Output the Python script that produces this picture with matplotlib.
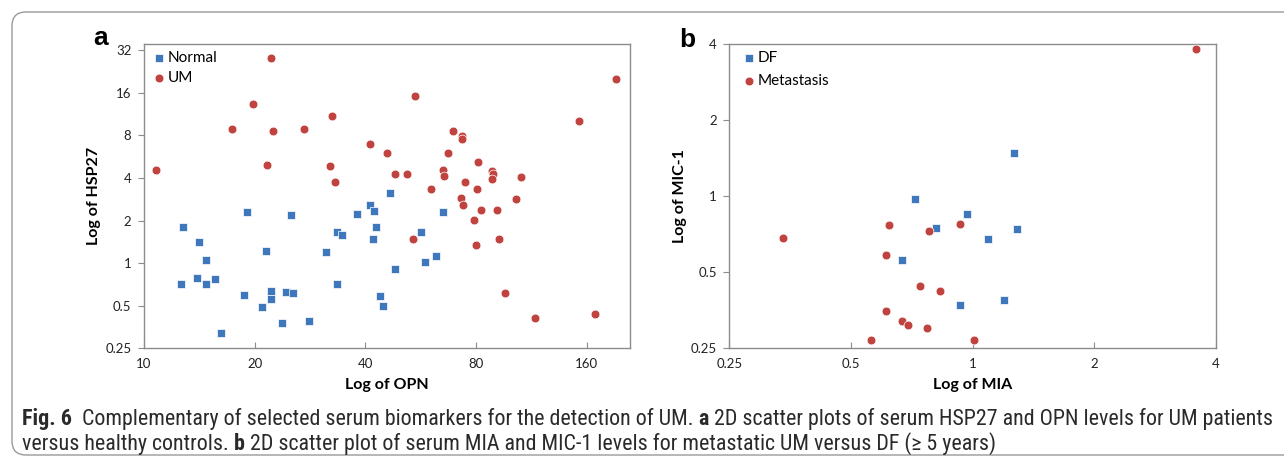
import matplotlib

matplotlib.use("Agg")

import matplotlib.pyplot as plt
from matplotlib.patches import FancyBboxPatch
from matplotlib.ticker import FixedLocator, FuncFormatter, NullLocator

# panel a: serum OPN (x) vs HSP27 (y)
normal_opn = [12.8, 19.1, 25.1, 14.1, 21.5, 14.7, 13.9, 12.6, 14.7, 15.6,
              18.7, 22.1, 22.1, 24.4, 25.4, 21.0, 23.8, 28.1, 16.2, 46.6,
              41.2, 42.2, 38.0, 65.2, 42.8, 41.9, 33.5, 34.6, 56.7, 31.2,
              58.0, 62.1, 48.1, 33.5, 43.7, 44.7]
normal_hsp27 = [1.81, 2.29, 2.20, 1.42, 1.22, 1.06, 0.79, 0.715, 0.715, 0.776,
                0.60, 0.635, 0.56, 0.62, 0.61, 0.49, 0.38, 0.39, 0.32, 3.14,
                2.56, 2.35, 2.23, 2.29, 1.81, 1.48, 1.66, 1.58, 1.66, 1.20,
                1.02, 1.12, 0.91, 0.71, 0.59, 0.50]
um_opn = [22.1, 19.8, 17.4, 22.4, 27.3, 10.8, 21.6, 54.5, 32.5, 41.2,
          45.8, 69.4, 73.2, 73.2, 67.0, 32.1, 33.0, 48.1, 51.9, 65.2,
          65.4, 74.6, 60.2, 72.6, 73.5, 53.9, 191.8, 152.1, 80.8, 88.6,
          89.1, 88.2, 106.0, 80.5, 102.7, 82.5, 91.4, 78.8, 92.5, 80.1,
          96.1, 115.9, 168.1]
um_hsp27 = [28.0, 13.3, 8.9, 8.6, 8.9, 4.57, 4.93, 15.2, 11.0, 6.9,
            5.97, 8.54, 7.87, 7.53, 6.03, 4.88, 3.76, 4.28, 4.28, 4.53,
            4.11, 3.72, 3.32, 2.88, 2.59, 1.49, 20.1, 10.1, 5.21, 4.51,
            4.24, 3.95, 4.06, 3.32, 2.82, 2.37, 2.37, 2.02, 1.47, 1.34,
            0.61, 0.41, 0.44]

# panel b: serum MIA (x) vs MIC-1 (y)
df_mia = [1.265, 0.72, 0.968, 0.81, 1.285, 1.09, 0.67, 0.93, 1.195]
df_mic1 = [1.48, 0.98, 0.85, 0.75, 0.74, 0.68, 0.56, 0.37, 0.39]
met_mia = [0.34, 0.62, 0.78, 0.93, 0.61, 0.74, 0.83, 0.61, 0.67, 0.69,
           0.77, 0.56, 1.01, 3.56]
met_mic1 = [0.686, 0.77, 0.73, 0.78, 0.587, 0.44, 0.42, 0.35, 0.32, 0.31,
            0.30, 0.27, 0.27, 3.82]

a_xticks = [10, 20, 40, 80, 160]
a_yticks = [0.25, 0.5, 1, 2, 4, 8, 16, 32]
b_ticks = [0.25, 0.5, 1, 2, 4]

caption_1 = [
    ("Fig. 6", "bold", 2),
    ("Complementary of selected serum biomarkers for the detection of UM.", "normal", 1),
    ("a", "bold", 1),
    ("2D scatter plots of serum HSP27 and OPN levels for UM patients", "normal", 0),
]
caption_2 = [
    ("versus healthy controls.", "normal", 1),
    ("b", "bold", 1),
    ("2D scatter plot of serum MIA and MIC-1 levels for metastatic UM versus DF (\u2265 5 years)",
     "normal", 0),
]

BLUE = "#3f77bd"
RED = "#c0433f"
SPINE = "#8c8c8c"
UI_FONT = ["Lato", "DejaVu Sans"]
CAP_FONT = ["Liberation Sans Narrow", "Roboto Condensed", "Roboto", "DejaVu Sans"]

W, H = 1284, 461
fig = plt.figure(figsize=(W / 100, H / 100), dpi=100)

# outer rounded frame
fig.patches.append(FancyBboxPatch((12, 6), 1320, 443, boxstyle="round,pad=0,rounding_size=14",
                                  transform=None, fill=False, edgecolor="#9a9a9a", linewidth=1.0))


def style_axes(ax, xticks, yticks, xlim, ylim, xlabel, ylabel, ypad):
    ax.set_xscale("log", base=2)
    ax.set_yscale("log", base=2)
    ax.set_xlim(*xlim)
    ax.set_ylim(*ylim)
    fmt = FuncFormatter(lambda v, p: f"{v:g}")
    ax.xaxis.set_major_locator(FixedLocator(xticks))
    ax.yaxis.set_major_locator(FixedLocator(yticks))
    ax.xaxis.set_major_formatter(fmt)
    ax.yaxis.set_major_formatter(fmt)
    ax.xaxis.set_minor_locator(NullLocator())
    ax.yaxis.set_minor_locator(NullLocator())
    for s in ax.spines.values():
        s.set_color(SPINE)
        s.set_linewidth(1.0)
    ax.tick_params(axis="x", direction="in", length=4, color=SPINE, pad=7, labelsize=9.5,
                   labelcolor="#222222")
    ax.tick_params(axis="y", direction="out", length=4, color=SPINE, pad=5, labelsize=9.5,
                   labelcolor="#222222")
    for lab in ax.get_xticklabels() + ax.get_yticklabels():
        lab.set_family(UI_FONT)
    ax.set_xlabel(xlabel, fontsize=11.5, fontweight="bold", family=UI_FONT, labelpad=6)
    ax.set_ylabel(ylabel, fontsize=11.5, fontweight="bold", family=UI_FONT, labelpad=ypad)


def legend(ax, x0, spacing):
    ax.legend(loc="upper left", bbox_to_anchor=(x0, 1.0), frameon=False,
              handletextpad=0.1, labelspacing=spacing, borderaxespad=0.05,
              handlelength=1.0, prop={"family": UI_FONT, "size": 11})


# panel a
ax1 = fig.add_axes([144 / W, 1 - 348.3 / H, (630 - 144) / W, (348.3 - 44.3) / H])
ax1.scatter(normal_opn, normal_hsp27, marker="s", s=34, color=BLUE, edgecolors="white",
            linewidths=0.5, label="Normal", zorder=3)
ax1.scatter(um_opn, um_hsp27, marker="o", s=40, color=RED, edgecolors="white",
            linewidths=0.5, label="UM", zorder=3)
style_axes(ax1, a_xticks, a_yticks, (10, 209.7), (0.25, 35.2), "Log of OPN", "Log of HSP27", 3)
legend(ax1, 0.0, 0.35)

# panel b
ax2 = fig.add_axes([729.3 / W, 1 - 348.3 / H, (1216 - 729.3) / W, (348.3 - 44.3) / H])
ax2.scatter(df_mia, df_mic1, marker="s", s=34, color=BLUE, edgecolors="white",
            linewidths=0.5, label="DF", zorder=3)
ax2.scatter(met_mia, met_mic1, marker="o", s=40, color=RED, edgecolors="white",
            linewidths=0.5, label="Metastasis", zorder=3)
style_axes(ax2, b_ticks, b_ticks, (0.25, 4), (0.25, 4), "Log of MIA", "Log of MIC-1", 3)
legend(ax2, 0.01, 0.6)

# panel letters
fig.text(93 / W, 1 - 38 / H, "a", fontsize=19, fontweight="bold", family="Liberation Sans",
         ha="left", va="center")
fig.text(679 / W, 1 - 40 / H, "b", fontsize=19, fontweight="bold", family="Liberation Sans",
         ha="left", va="center")

# caption with mixed weights, sized so the first line spans the same width as the original
renderer = fig.canvas.get_renderer()


def text_width(s, weight, size):
    t = fig.text(0, 0, s, fontsize=size, fontweight=weight, family=CAP_FONT)
    w = t.get_window_extent(renderer).width
    t.remove()
    return w


def runs_width(runs, size):
    sp = text_width("x x", "normal", size) - text_width("xx", "normal", size)
    return sum(text_width(s, w, size) + g * sp for s, w, g in runs)


cap_size = 12.0 * 1250 / runs_width(caption_1, 12.0)
space_w = text_width("x x", "normal", cap_size) - text_width("xx", "normal", cap_size)


def draw_runs(x_px, y_px, runs):
    x = x_px
    for s, weight, gap in runs:
        t = fig.text(x / W, 1 - y_px / H, s, fontsize=cap_size, fontweight=weight,
                     family=CAP_FONT, ha="left", va="baseline", color="#2a2a2a")
        x += t.get_window_extent(renderer).width + gap * space_w


draw_runs(22, 425, caption_1)
draw_runs(22, 450, caption_2)

fig.savefig("out.png", dpi=100)
